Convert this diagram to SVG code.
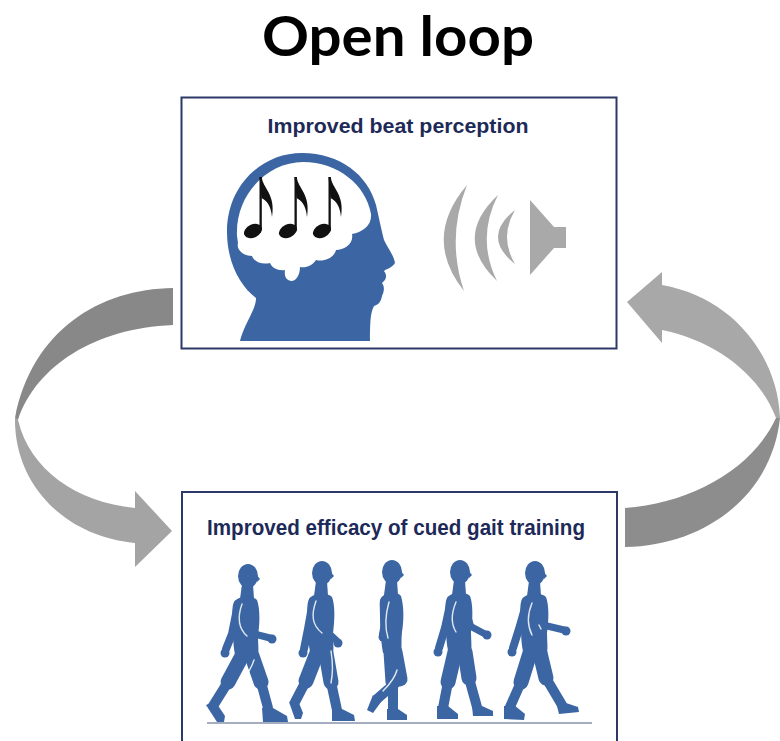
<svg xmlns="http://www.w3.org/2000/svg" width="780" height="741" viewBox="0 0 780 741">
  <defs>
    <style>
      .box { fill: #ffffff; stroke: #2b3868; stroke-width: 2; }
      .label { font-family: "Liberation Sans", Arial, sans-serif; font-weight: bold; fill: #1d2a58; text-anchor: middle; }
      .blue { fill: #3b66a3; }
      .note { fill: #111111; }
      .sound { fill: #a9a9a9; }
      .walker { fill: #3b66a3; }
      .thigh { fill: none; stroke: #3b66a3; stroke-width: 15; stroke-linecap: round; stroke-linejoin: round; }
      .shin { fill: none; stroke: #3b66a3; stroke-width: 10; stroke-linecap: round; stroke-linejoin: round; }
      .arm { fill: none; stroke: #3b66a3; stroke-width: 8; stroke-linecap: round; stroke-linejoin: round; }
      .fore { fill: none; stroke: #3b66a3; stroke-width: 7; stroke-linecap: round; stroke-linejoin: round; }
      .hl { fill: none; stroke: #ffffff; stroke-width: 1.4; stroke-linecap: round; opacity: 0.85; }
    </style>
    <!-- eighth note: head centred at 0,0 -->
    <g id="eighth">
      <ellipse cx="0" cy="0" rx="9.5" ry="6.5" transform="rotate(-25)"/>
      <rect x="6.5" y="-54" width="2.3" height="52"/>
      <path d="M6.5,-54 L8.8,-54 C9.5,-43 23,-37 19,-14 C18,-26 13,-31 8.5,-33 Z"/>
    </g>
    <!-- head and neck shared by the walking figures -->
    <g id="walker-head">
      <ellipse cx="0" cy="0" rx="10" ry="12"/>
      <path d="M8,-2 L12,3 L9,6 Z"/>
      <path d="M-6,8 L5,8 L6,23 L-8,23 Z"/>
    </g>
  </defs>

  <rect width="780" height="741" fill="#ffffff"/>

  <!-- title -->
  <text x="398" y="56" font-family="Lato, 'Open Sans', sans-serif" font-weight="bold" font-size="56" text-anchor="middle" textLength="272" lengthAdjust="spacingAndGlyphs" fill="#000000">Open loop</text>

  <!-- loop arrows -->
  <g id="connectors">
    <!-- left: top box down to bottom box -->
    <path fill="#888888" d="M173,288 C100,289 32,330 15,418 L18,420 C36,366 95,328 173,325 Z"/>
    <path fill="#a4a4a4" d="M15,418 C14,482 62,536 135,543 L135,567 L172,531 L135,491 L135,508 C76,502 30,470 18,420 Z"/>
    <!-- right: bottom box up to top box -->
    <path fill="#8d8d8d" d="M625,508 C690,503 752,470 776,418 L780,418 C772,495 705,546 625,547 Z"/>
    <path fill="#a8a8a8" d="M780,418 C778,358 735,298 662,285 L662,272 L627,302 L662,343 L662,330 C716,341 760,375 776,418 Z"/>
  </g>

  <!-- beat perception panel -->
  <g id="beat-perception">
    <rect class="box" x="181.5" y="97.5" width="435" height="251"/>
    <text class="label" x="398" y="133" font-size="20.5" textLength="261" lengthAdjust="spacingAndGlyphs">Improved beat perception</text>
    <!-- head profile -->
    <path class="blue" d="M240,341 C245,322 256,310 256,298 C240,286 227,262 227,232 C227,185 262,153 302,153 C340,153 368,175 376,205 C379,218 381,228 384,240 C389,250 394,256 395,263 C392,268 386,269 384,271 C387,275 387,279 382,283 C385,287 384,292 382,296 C381,302 378,305 374,306 C371,312 370,318 370,341 Z"/>
    <!-- brain area -->
    <path fill="#ffffff" d="M237,236 C235,194 268,162 303,162 C338,162 366,185 371,214 C372,226 362,232 352,234 C354,244 344,250 336,250 C334,258 324,262 316,260 C312,266 306,268 300,267 C300,274 297,280 292,281 C286,281 284,276 285,270 C278,271 272,268 270,263 C262,265 254,262 252,256 C244,256 236,250 238,243 Z"/>
    <g class="note">
      <use href="#eighth" x="253" y="231"/>
      <use href="#eighth" x="288" y="231"/>
      <use href="#eighth" x="322" y="231"/>
    </g>
    <!-- sound waves and speaker -->
    <g class="sound">
      <path d="M467,185 Q422,238 464,291 Q446,238 467,185 Z"/>
      <path d="M498,195 Q452,238 497,281 Q476,238 498,195 Z"/>
      <path d="M515,210 Q481,237 515,264 Q499,237 515,210 Z"/>
      <polygon points="530,200 554,227 566,227 566,248 554,248 530,275"/>
    </g>
  </g>

  <!-- gait training panel -->
  <g id="gait-training">
    <rect class="box" x="182" y="492" width="435" height="262"/>
    <text class="label" x="396" y="535" font-size="21.5" textLength="378" lengthAdjust="spacingAndGlyphs">Improved efficacy of cued gait training</text>
    <line x1="207" y1="723" x2="592" y2="723" stroke="#8793ad" stroke-width="1.5"/>

    <!-- walker 1 -->
    <g class="walker" transform="translate(248,576)">
      <use href="#walker-head"/>
      <path d="M-14,26 C-10,20 4,19 9,24 C12,32 12,46 10,60 C10,68 11,74 10,80 L-12,82 C-15,72 -15,60 -15,48 C-16,38 -16,30 -14,26 Z"/>
      <path class="arm" d="M-10,28 L-16,58 L-22,73"/>
      <circle cx="-23" cy="77" r="4.5"/>
      <path class="arm" d="M-2,28 L-1,56"/>
      <path class="fore" d="M-1,56 L22,62"/>
      <circle cx="24" cy="63" r="4.5"/>
      <path class="thigh" d="M-6,80 L-20,106"/>
      <path class="shin" d="M-20,106 L-35,130"/>
      <path d="M-42,129 L-33,125 L-23,140 L-24,146 L-31,146 Z"/>
      <path class="thigh" d="M4,80 L13,106"/>
      <path class="shin" d="M13,106 L20,132"/>
      <path d="M14,132 L25,132 L39,140 L40,146 L15,146 Z"/>
      <path class="hl" d="M-6,28 C-11,42 -10,52 -1,60"/>
      <path class="hl" d="M6,84 C3,94 -2,100 -7,106"/>
    </g>

    <!-- walker 2 -->
    <g class="walker" transform="translate(322,573)">
      <use href="#walker-head"/>
      <path d="M-13,26 C-9,20 5,19 10,24 C13,32 13,46 11,60 C11,68 12,74 11,80 L-11,82 C-14,72 -14,60 -14,48 C-15,38 -15,30 -13,26 Z"/>
      <path class="arm" d="M-9,28 L-14,56 L-18,76"/>
      <circle cx="-19" cy="80" r="4.5"/>
      <path class="arm" d="M-1,28 L2,56"/>
      <path class="fore" d="M2,56 L14,67"/>
      <circle cx="16" cy="70" r="4.5"/>
      <path class="thigh" d="M-5,80 L-16,108"/>
      <path class="shin" d="M-16,108 L-27,129"/>
      <path d="M-33,129 L-25,125 L-19,140 L-21,146 L-27,146 Z"/>
      <path class="thigh" d="M4,80 L9,109"/>
      <path class="shin" d="M9,109 L15,137"/>
      <path d="M10,136 L20,136 L32,142 L33,148 L10,148 Z"/>
      <path class="hl" d="M-6,28 C-11,42 -10,52 0,60"/>
      <path class="hl" d="M9,78 C11,90 11,100 9,110"/>
    </g>

    <!-- walker 3 -->
    <g class="walker" transform="translate(392,572)">
      <use href="#walker-head"/>
      <path d="M-11,26 C-7,20 5,19 9,24 C12,34 12,48 10,60 C9,68 10,74 9,80 L-9,81 C-11,70 -12,56 -12,44 C-12,34 -13,28 -11,26 Z"/>
      <path class="arm" d="M-5,28 L-7,52 L-9,62"/>
      <circle cx="-9" cy="65" r="4.5"/>
      <path class="thigh" d="M-1,80 L1,110"/>
      <path class="shin" d="M1,110 L1,139"/>
      <path d="M-5,137 L6,137 L15,143 L15,148 L-5,148 Z"/>
      <path class="thigh" d="M3,80 L8,107"/>
      <path class="shin" d="M8,107 L-15,127"/>
      <path d="M-19,123 L-11,130 L-19,141 L-25,138 Z"/>
      <path class="hl" d="M-3,30 C-7,44 -7,56 -4,66"/>
      <path class="hl" d="M5,98 C3,106 -3,113 -9,119"/>
    </g>

    <!-- walker 4 -->
    <g class="walker" transform="translate(460,572)">
      <use href="#walker-head"/>
      <path d="M-13,26 C-9,20 5,19 10,24 C13,32 13,46 11,60 C11,68 12,74 11,80 L-11,82 C-14,72 -14,60 -14,48 C-15,38 -15,30 -13,26 Z"/>
      <path class="arm" d="M-9,28 L-15,56 L-21,76"/>
      <circle cx="-22" cy="80" r="4.5"/>
      <path class="arm" d="M3,28 L10,54"/>
      <path class="fore" d="M10,54 L25,62"/>
      <circle cx="27" cy="63" r="4.5"/>
      <path class="thigh" d="M-5,80 L-12,110"/>
      <path class="shin" d="M-12,110 L-17,136"/>
      <path d="M-23,134 L-12,134 L-2,142 L-2,147 L-23,147 Z"/>
      <path class="thigh" d="M5,80 L9,106"/>
      <path class="shin" d="M9,106 L17,135"/>
      <path d="M12,134 L22,134 L33,139 L33,144 L13,144 Z"/>
      <path class="hl" d="M-4,30 C-9,42 -9,52 -4,60"/>
    </g>

    <!-- walker 5 -->
    <g class="walker" transform="translate(535,573)">
      <use href="#walker-head"/>
      <path d="M-13,26 C-9,20 6,19 11,24 C14,32 14,46 12,60 C12,68 13,74 12,80 L-11,82 C-14,72 -14,60 -14,48 C-15,38 -15,30 -13,26 Z"/>
      <path class="arm" d="M-8,28 L-16,56 L-22,75"/>
      <circle cx="-23" cy="79" r="4.5"/>
      <path class="arm" d="M4,28 L8,52"/>
      <path class="fore" d="M8,52 L29,57"/>
      <circle cx="31" cy="58" r="4.5"/>
      <path class="thigh" d="M-5,80 L-14,109"/>
      <path class="shin" d="M-14,109 L-25,134"/>
      <path d="M-31,133 L-21,132 L-10,141 L-11,147 L-31,146 Z"/>
      <path class="thigh" d="M5,80 L11,105"/>
      <path class="shin" d="M11,105 L27,132"/>
      <path d="M22,133 L31,130 L43,134 L44,139 L24,141 Z"/>
      <path class="hl" d="M-3,30 C-8,42 -8,52 -3,62"/>
      <path class="hl" d="M4,52 L6,56"/>
    </g>
  </g>
</svg>
